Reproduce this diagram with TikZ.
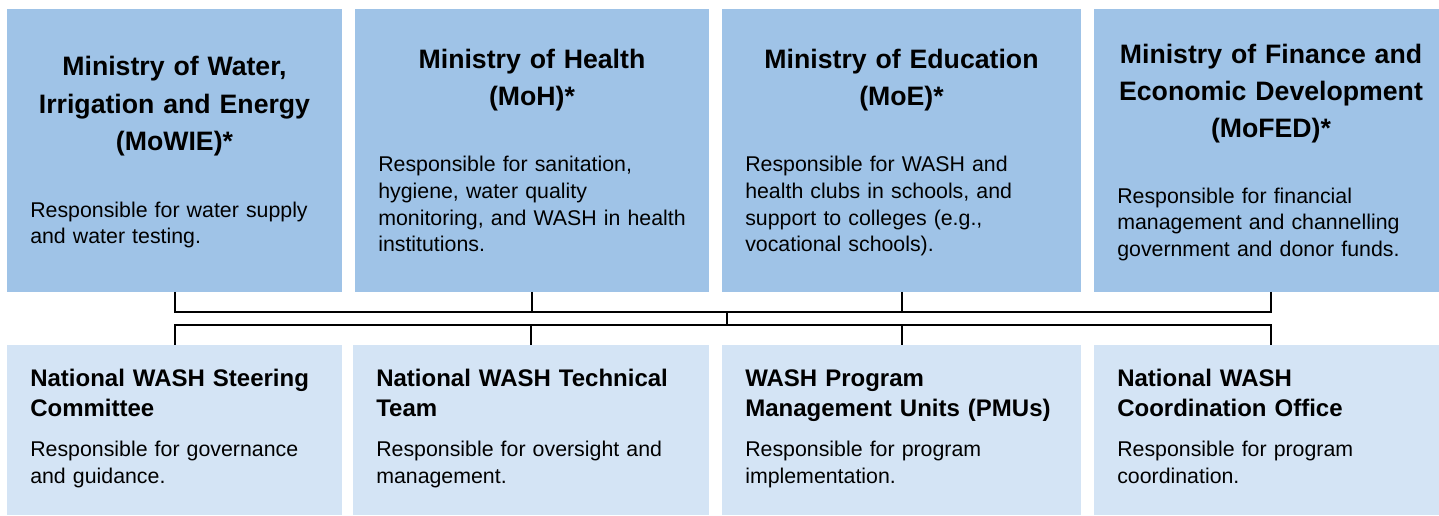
\documentclass[tikz,border=0pt]{standalone}
\usepackage{fontspec}
\setmainfont{Liberation Sans}
\definecolor{topfill}{HTML}{9FC3E7}
\definecolor{botfill}{HTML}{D4E4F5}
\begin{document}
\begin{tikzpicture}[x=0.75pt,y=-0.75pt,
  panel/.style={draw=none, inner sep=0pt, outer sep=0pt, anchor=north west},
  ministry/.style={panel, fill=topfill, minimum height=212.25pt},
  unit/.style={panel, fill=botfill, minimum height=127.5pt},
  headline/.style={inner sep=0pt, anchor=base, align=center, text width=250pt,
    font=\fontsize{20pt}{28pt}\selectfont\bfseries},
  unithead/.style={inner sep=0pt, anchor=base west, align=left, text width=260pt,
    font=\fontsize{18pt}{22.5pt}\selectfont\bfseries},
  blurb/.style={inner sep=0pt, anchor=base west, align=left, text width=260pt,
    font=\fontsize{16pt}{20pt}\selectfont},
  conn/.style={draw=black, line width=1.5pt}]
\useasboundingbox (0,0) rectangle (1439,516);

% ministries (top row)
\node[ministry, minimum width=251.25pt] (t1) at (7,9) {};
\node[ministry, minimum width=265.5pt]  (t2) at (355,9) {};
\node[ministry, minimum width=269.25pt] (t3) at (722,9) {};
\node[ministry, minimum width=265.5pt]  (t4) at (1094,9) {};

% WASH bodies (bottom row)
\node[unit, minimum width=251.25pt] (b1) at (7,345) {};
\node[unit, minimum width=267pt]    (b2) at (353,345) {};
\node[unit, minimum width=269.25pt] (b3) at (722,345) {};
\node[unit, minimum width=265.5pt]  (b4) at (1094,345) {};

% ministry texts
\node[headline] (t1h) at (174.5,76) {Ministry of Water,\\Irrigation and Energy\\(MoWIE)*};
\node[blurb] (t1b) at (30,217.3) {Responsible for water supply\\and water testing.};

\node[headline] (t2h) at (532,68.3) {Ministry of Health\\(MoH)*};
\node[blurb] (t2b) at (378,171.7) {Responsible for sanitation,\\hygiene, water quality\\monitoring, and WASH in health\\institutions.};

\node[headline] (t3h) at (901.5,68.3) {Ministry of Education\\(MoE)*};
\node[blurb] (t3b) at (745,171.7) {Responsible for WASH and\\health clubs in schools, and\\support to colleges (e.g.,\\vocational schools).};

\node[headline] (t4h) at (1271,63.3) {Ministry of Finance and\\Economic Development\\(MoFED)*};
\node[blurb] (t4b) at (1117,203.3) {Responsible for financial\\management and channelling\\government and donor funds.};

% WASH body texts
\node[unithead] (b1h) at (30,386.7) {National WASH Steering\\Committee};
\node[blurb] (b1b) at (30,456.7) {Responsible for governance\\and guidance.};

\node[unithead] (b2h) at (376,386.7) {National WASH Technical\\Team};
\node[blurb] (b2b) at (376,456.7) {Responsible for oversight and\\management.};

\node[unithead] (b3h) at (745,386.7) {WASH Program\\Management Units (PMUs)};
\node[blurb] (b3b) at (745,456.7) {Responsible for program\\implementation.};

\node[unithead] (b4h) at (1117,386.7) {National WASH\\Coordination Office};
\node[blurb] (b4b) at (1117,456.7) {Responsible for program\\coordination.};

% connectors: ministries join one bus, which feeds a second bus to the WASH bodies
\coordinate (busTop) at (727,312);
\coordinate (busBot) at (727,325);
\draw[conn] (t1.south) |- (busTop);
\draw[conn] (t2.south) -- (t2.south |- busTop);
\draw[conn] (t3.south) -- (t3.south |- busTop);
\draw[conn] (t4.south) |- (busTop);
\draw[conn] (busTop) -- (busBot);
\draw[conn] (b1.north) |- (busBot);
\draw[conn] (b2.north) -- (b2.north |- busBot);
\draw[conn] (b3.north) -- (b3.north |- busBot);
\draw[conn] (b4.north) |- (busBot);
\end{tikzpicture}
\end{document}
